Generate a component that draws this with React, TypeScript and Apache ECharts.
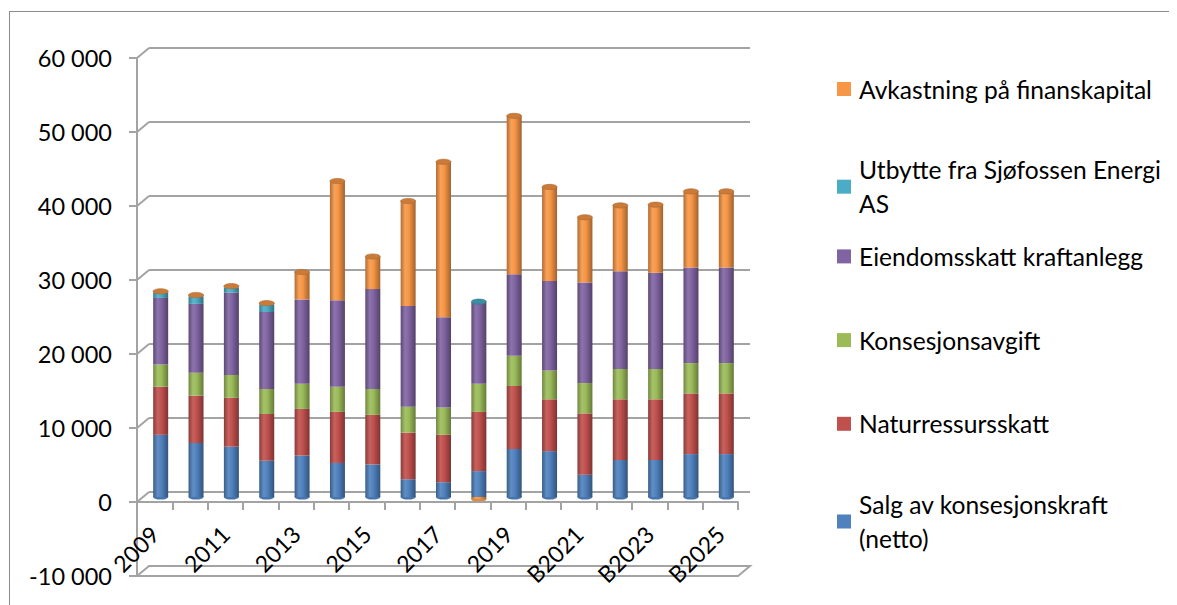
import React, { useEffect, useRef } from 'react';
import * as echarts from 'echarts';

// Budget years and accounts (thousand NOK)
const categories = [
  '2009', '2010', '2011', '2012', '2013', '2014', '2015', '2016', '2017', '2018', '2019',
  'B2020', 'B2021', 'B2022', 'B2023', 'B2024', 'B2025',
];

const salgKonsesjonskraft = [8400, 7300, 6800, 4900, 5600, 4600, 4400, 2400, 2000, 3500, 6500, 6200, 3000, 5000, 5000, 5800, 5800];
const naturressursskatt = [6500, 6400, 6600, 6300, 6300, 6900, 6700, 6300, 6400, 8000, 8500, 7000, 8300, 8200, 8200, 8200, 8200];
const konsesjonsavgift = [3000, 3100, 3100, 3400, 3400, 3400, 3500, 3500, 3700, 3800, 4100, 3900, 4100, 4100, 4100, 4100, 4100];
const eiendomsskatt = [9000, 9300, 11100, 10400, 11400, 11700, 13500, 13600, 12200, 10900, 11000, 12100, 13600, 13200, 13000, 12900, 12900];
const utbytte = [700, 1000, 700, 1000, 0, 0, 0, 0, 0, 200, 0, 0, 0, 0, 0, 0, 0];
const avkastning = [200, 200, 200, 200, 3700, 16100, 4400, 14200, 21000, -300, 21400, 12700, 8800, 8900, 9200, 10300, 10300];

// Stacking order, bottom to top
const seriesNames = [
  'Salg av konsesjonskraft (netto)',
  'Naturressursskatt',
  'Konsesjonsavgift',
  'Eiendomsskatt kraftanlegg',
  'Utbytte fra Sjøfossen Energi AS',
  'Avkastning på finanskapital',
];
const seriesValues = [salgKonsesjonskraft, naturressursskatt, konsesjonsavgift, eiendomsskatt, utbytte, avkastning];
const legendLabels = [
  'Salg av konsesjonskraft\n(netto)',
  'Naturressursskatt',
  'Konsesjonsavgift',
  'Eiendomsskatt kraftanlegg',
  'Utbytte fra Sjøfossen Energi\nAS',
  'Avkastning på finanskapital',
];

const yMin = -10000;
const yMax = 60000;
const yStep = 10000;
const yTicks = [0, 10000, 20000, 30000, 40000, 50000, 60000];

const COLORS = ['#4F81BD', '#C0504D', '#9BBB59', '#8064A2', '#4BACC6', '#F79646'];
const LINE = '#a3a3a3';
const FONT = 'Lato, "Open Sans", sans-serif';
const DX = 12; // depth offset of the back wall
const DY = 10;

function shade(hex: string, f: number): string {
  const n = parseInt(hex.slice(1), 16);
  let r = (n >> 16) & 255, g = (n >> 8) & 255, b = n & 255;
  if (f < 0) {
    r *= 1 + f; g *= 1 + f; b *= 1 + f;
  } else {
    r += (255 - r) * f; g += (255 - g) * f; b += (255 - b) * f;
  }
  const h = (v: number) => Math.round(Math.max(0, Math.min(255, v))).toString(16).padStart(2, '0');
  return '#' + h(r) + h(g) + h(b);
}

function cylinder(c: string) {
  return {
    type: 'linear', x: 0, y: 0, x2: 1, y2: 0,
    colorStops: [
      { offset: 0, color: shade(c, -0.28) },
      { offset: 0.3, color: shade(c, 0.1) },
      { offset: 0.55, color: c },
      { offset: 1, color: shade(c, -0.35) },
    ],
  };
}

const fmt = (v: number) =>
  (v < 0 ? '-' : '') + String(Math.abs(v)).replace(/\B(?=(\d{3})+(?!\d))/g, ' ');

export default function App() {
  const ref = useRef<HTMLDivElement>(null);

  useEffect(() => {
    if (!ref.current) return;
    // the chart fills the window edge to edge; no scrollbars
    const html = document.documentElement;
    const prevOverflow = html.style.overflow;
    html.style.overflow = 'hidden';

    const chart = echarts.init(ref.current, undefined, { renderer: 'svg' });

    // top / bottom of each stacked column, with the series that ends it
    const ends = categories.map((_, i) => {
      let top = 0, bottom = 0, topIdx = 0, bottomIdx = 0;
      seriesValues.forEach((vals, s) => {
        const v = vals[i];
        if (v > 0) { top += v; topIdx = s; }
        if (v < 0) { bottom += v; bottomIdx = s; }
      });
      return [i, top, topIdx, bottom, bottomIdx];
    });

    const W = 601, H = 518;
    const plotH = (H * (yMax - 0)) / (yMax - yMin); // height of the 0..max band
    const G = { outerBoundsMode: 'none', containLabel: false };
    const front = { ...G, left: 129, top: 50, width: W, height: H };
    const mid = { ...G, left: 129 + DX / 2, top: 50 - DY / 2, width: W, height: H };
    const back = { ...G, left: 129 + DX, top: 50 - DY, width: W, height: H };
    const catGrid = { ...G, left: 129, top: 50, width: W, height: plotH };

    const yBase = { type: 'value', min: yMin, max: yMax, interval: yStep };

    const legendTop = [5, 4, 3, 2, 1, 0];
    const L = 34;

    chart.setOption({
      animation: false,
      backgroundColor: '#ffffff',
      grid: [front, mid, back, catGrid],
      xAxis: [
        { type: 'category', gridIndex: 0, data: categories, show: false },
        { type: 'category', gridIndex: 1, data: categories, show: false },
        {
          type: 'category', gridIndex: 2, data: categories,
          axisLine: { show: false }, axisTick: { show: false }, axisLabel: { show: false },
          splitLine: { show: false },
        },
        {
          type: 'category', gridIndex: 3, data: categories, position: 'bottom', z: 10,
          axisLine: { show: true, onZero: false, lineStyle: { color: LINE, width: 2 } },
          axisTick: { show: true, interval: 0, length: 8, lineStyle: { color: LINE, width: 2 } },
          axisLabel: { interval: 1, rotate: 45, margin: 28, fontSize: 23, fontFamily: FONT, color: '#000' },
          splitLine: { show: false },
        },
      ],
      yAxis: [
        {
          ...yBase, gridIndex: 0, z: 5,
          axisLine: { show: true, lineStyle: { color: LINE, width: 2 } },
          axisTick: { show: true, length: 8, lineStyle: { color: LINE, width: 2 } },
          axisLabel: { formatter: fmt, margin: 25, fontSize: 23.5, fontFamily: FONT, color: '#000' },
          splitLine: { show: false },
        },
        { ...yBase, gridIndex: 1, show: false },
        {
          ...yBase, gridIndex: 2,
          axisLine: { show: false }, axisTick: { show: false }, axisLabel: { show: false },
          splitLine: { show: true, lineStyle: { color: LINE, width: 2 } },
        },
        { type: 'value', gridIndex: 3, min: 0, max: yMax, show: false },
      ],
      legend: legendTop.map((si, k) => {
        const twoLine = legendLabels[si].includes('\n');
        const cy = 81 + k * 83.7;
        return {
          orient: 'vertical', left: 829, top: twoLine ? cy - 1.5 * L + 14 : cy - L / 2,
          padding: 0, itemWidth: 14, itemHeight: 14, icon: 'rect', selectedMode: false,
          data: [{ name: seriesNames[si], itemStyle: { color: COLORS[si] } }],
          formatter: () => legendLabels[si],
          textStyle: {
            fontFamily: FONT, fontSize: 24.6, color: '#000', lineHeight: L,
            padding: twoLine ? [L, 0, 0, 3] : [0, 0, 0, 3],
          },
        };
      }),
      series: [
        // diagonal links from the front axis ticks to the back wall
        {
          type: 'custom', xAxisIndex: 0, yAxisIndex: 0, silent: true, z: 1,
          data: yTicks.map((v) => [0, v]),
          renderItem: (_p: any, api: any) => {
            const pt = api.coord([0, api.value(1)]);
            const x0 = pt[0] - api.size([1, 0])[0] / 2;
            return {
              type: 'line',
              shape: { x1: x0, y1: pt[1], x2: x0 + DX, y2: pt[1] - DY },
              style: { stroke: LINE, lineWidth: 2 },
            };
          },
        },
        // floor slab at the axis minimum
        {
          type: 'custom', xAxisIndex: 0, yAxisIndex: 0, silent: true, z: 1,
          data: [[0, yMin]],
          renderItem: (_p: any, api: any) => {
            const half = api.size([1, 0])[0] / 2;
            const a = api.coord([0, yMin]);
            const b = api.coord([categories.length - 1, yMin]);
            const xl = a[0] - half, xr = b[0] + half, y = a[1];
            return {
              type: 'polygon',
              shape: { points: [[xl, y], [xr, y], [xr + DX, y - DY], [xl + DX, y - DY]] },
              style: { fill: '#ffffff', stroke: LINE, lineWidth: 2 },
            };
          },
        },
        // rounded bottoms of the cylinders
        {
          type: 'custom', xAxisIndex: 1, yAxisIndex: 1, silent: true, z: 1,
          data: ends,
          renderItem: (_p: any, api: any) => {
            const pt = api.coord([api.value(0), api.value(3)]);
            const c = COLORS[api.value(3) < 0 ? api.value(4) : 0];
            return {
              type: 'ellipse',
              shape: { cx: pt[0], cy: pt[1], rx: 7.5, ry: 2.6 },
              style: { fill: shade(c, -0.1) },
            };
          },
        },
        ...seriesNames.map((name, s) => ({
          name, type: 'bar', stack: 'total', xAxisIndex: 1, yAxisIndex: 1,
          barWidth: 15, z: 2,
          itemStyle: { color: cylinder(COLORS[s]) },
          data: seriesValues[s],
        })),
        // top caps of the cylinders
        {
          type: 'custom', xAxisIndex: 1, yAxisIndex: 1, silent: true, z: 3,
          data: ends,
          renderItem: (_p: any, api: any) => {
            const pt = api.coord([api.value(0), api.value(1)]);
            const c = COLORS[api.value(2)];
            return {
              type: 'ellipse',
              shape: { cx: pt[0], cy: pt[1], rx: 7.5, ry: 2.6 },
              style: { fill: shade(c, -0.18), stroke: shade(c, -0.3), lineWidth: 0.6 },
            };
          },
        },
      ],
    });

    return () => {
      chart.dispose();
      html.style.overflow = prevOverflow;
    };
  }, []);

  return (
    <div style={{ position: 'relative', width: 1169, height: 597, overflow: 'hidden' }}>
      <div ref={ref} style={{ width: 1169, height: 597 }} />
      {/* chart area frame: only its left and top edges fall inside the page */}
      <div
        style={{
          position: 'absolute', left: 1, top: 3, width: 1300, height: 800,
          borderLeft: '1px solid #8c8c8c', borderTop: '1px solid #8c8c8c',
          pointerEvents: 'none',
        }}
      />
    </div>
  );
}
